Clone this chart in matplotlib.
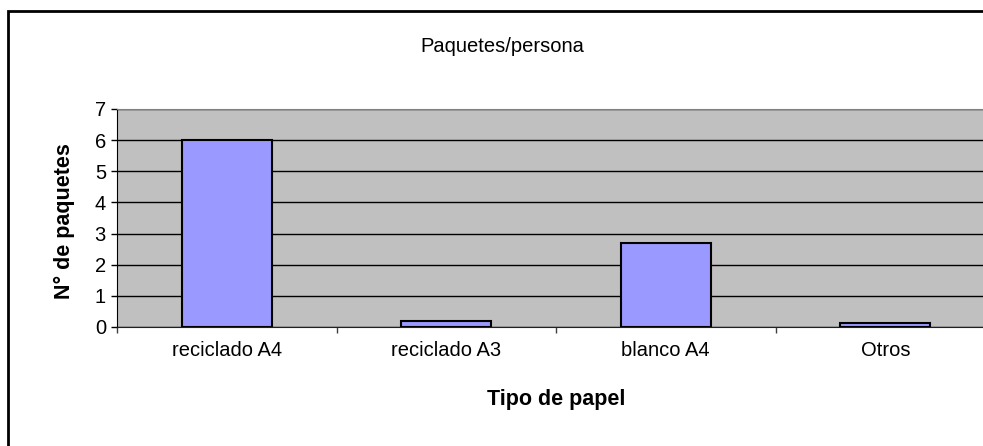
import matplotlib
matplotlib.use('Agg')
from matplotlib import pyplot as plt
from matplotlib.patches import Rectangle
from matplotlib.ticker import FixedLocator, NullFormatter

categories = ['reciclado A4', 'reciclado A3', 'blanco A4', 'Otros']
paquetes = [6.0, 0.18, 2.7, 0.13]
y_ticks = [0, 1, 2, 3, 4, 5, 6, 7]

plt.rcParams['font.family'] = ['Liberation Sans', 'DejaVu Sans']

W, H = 983, 446
fig = plt.figure(figsize=(W / 100, H / 100), dpi=100)
fig.patch.set_facecolor('white')

# chart border (Excel style, cut off on right and bottom)
fig.patches.append(Rectangle((8 / W, -0.1), 1.2, (H - 11) / H + 0.1,
                             transform=fig.transFigure, fill=False,
                             lw=2, edgecolor='black'))

ax = fig.add_axes([117 / W, (H - 327) / H, 878 / W, 218 / H])
ax.set_facecolor('#C0C0C0')

x = list(range(len(categories)))
ax.bar(x, paquetes, width=0.41, color='#9999FF', edgecolor='black',
       linewidth=1.5, zorder=3)

ax.set_xlim(-0.5, len(categories) - 0.5)
ax.set_ylim(0, 7)
ax.set_yticks(y_ticks)
ax.yaxis.grid(True, color='black', linewidth=1, zorder=1)
ax.set_axisbelow(True)

# category boundaries as major ticks, labels on minor ticks
ax.xaxis.set_major_locator(FixedLocator([i - 0.5 for i in range(len(categories) + 1)]))
ax.xaxis.set_major_formatter(NullFormatter())
ax.xaxis.set_minor_locator(FixedLocator(x))
ax.set_xticklabels(categories, minor=True)
ax.tick_params(axis='x', which='minor', length=0, pad=10, labelsize=14.5)
ax.tick_params(axis='x', which='major', length=4, width=1, color='#404040')
ax.tick_params(axis='y', length=4, width=1, pad=4, labelsize=14.5)

ax.spines['top'].set_color('#808080')
ax.spines['right'].set_color('#808080')
ax.spines['left'].set_color('black')
ax.spines['bottom'].set_color('#202020')

fig.text(502 / W, 1 - 46 / H, 'Paquetes/persona', ha='center', va='center', fontsize=14.5)
fig.text(556 / W, 1 - 400 / H, 'Tipo de papel', ha='center', va='center',
         fontsize=15.5, fontweight='bold')
fig.text(64 / W, 1 - 221 / H, 'N° de paquetes', ha='center', va='center',
         fontsize=15.5, fontweight='bold', rotation=90)

fig.savefig('out.png', dpi=100)
